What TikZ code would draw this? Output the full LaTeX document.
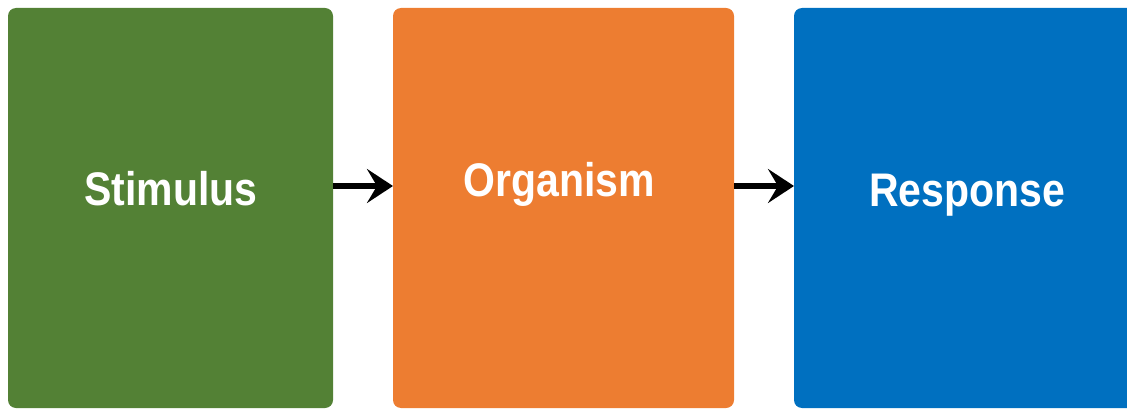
\documentclass[tikz,border=0pt]{standalone}
\usepackage{fontspec}
\setmainfont{Liberation Sans}
\usetikzlibrary{arrows.meta}
\definecolor{sgreen}{HTML}{538135}
\definecolor{sorange}{HTML}{ED7D31}
\definecolor{sblue}{HTML}{0070C0}
\begin{document}
\begin{tikzpicture}[x=1pt,y=-1pt,
  boxstyle/.style={rounded corners=8pt, draw=none},
  lbl/.style={text=white, font=\fontsize{41}{41}\selectfont\bfseries, anchor=base, inner sep=0pt},
  conn/.style={line width=5.3pt, -{Stealth[length=26pt,width=34pt,inset=10pt]}}]
\useasboundingbox (0,0) rectangle (1127,409);
\clip (0,0) rectangle (1127,409);
\fill[sgreen, boxstyle] (8,8) rectangle (333,408);
\fill[sorange, boxstyle] (393,8) rectangle (734,408);
\fill[sblue, boxstyle] (794,8) rectangle (1136,408);
\coordinate (s) at (333,186);
\coordinate (oin) at (393,186);
\coordinate (oout) at (734,186);
\coordinate (rin) at (794,186);
\node[lbl] (stim) at (171,205) {\scalebox{1}[1.15]{Stimulus}};
\node[lbl] (org) at (559,196) {\scalebox{1}[1.15]{Organism}};
\node[lbl] (resp) at (967,206) {\scalebox{1}[1.15]{Response}};
\draw[conn] (s) -- (oin);
\draw[conn] (oout) -- (rin);
\end{tikzpicture}
\end{document}
